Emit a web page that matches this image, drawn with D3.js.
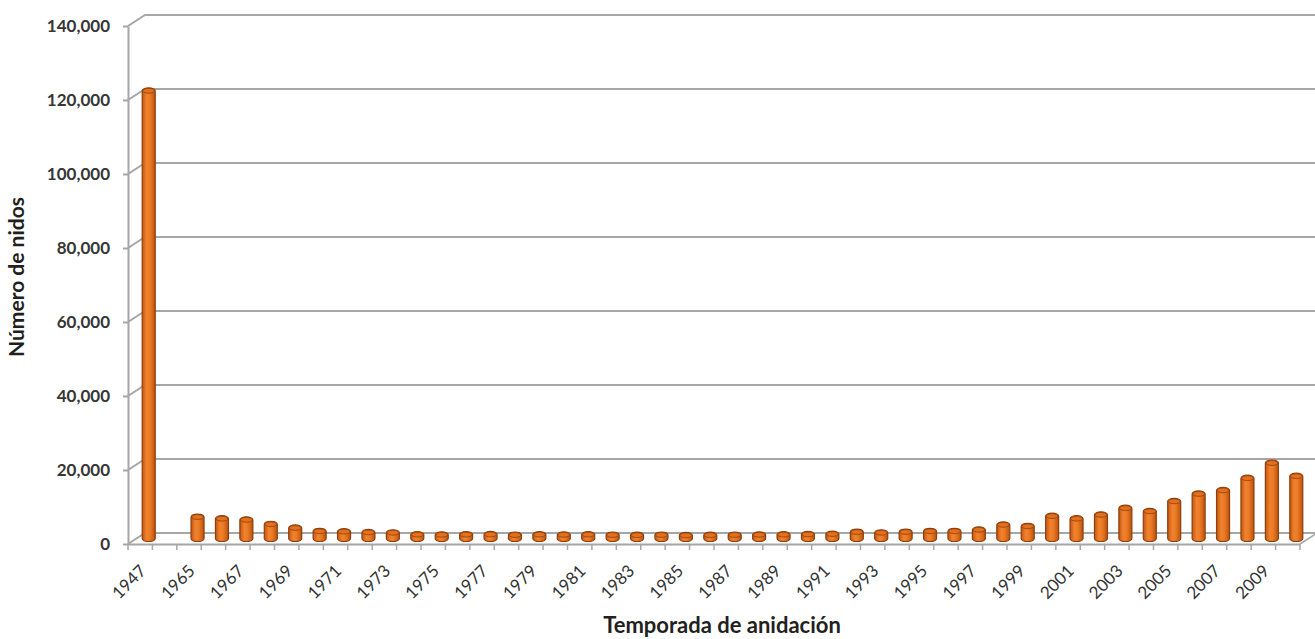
<!DOCTYPE html>
<html>
<head>
<meta charset="utf-8">
<script src="https://cdn.jsdelivr.net/npm/d3@7"></script>
<style>
  html, body { margin: 0; padding: 0; background: #ffffff; }
  svg { display: block; }
  text { font-family: Lato, "Open Sans", sans-serif; }
</style>
</head>
<body>
<svg id="chart" width="1315" height="639"></svg>
<script>
// Nesting seasons (an empty slot separates 1947 from the 1965 series)
const categories = ["1947", "",
  "1965","1966","1967","1968","1969","1970","1971","1972","1973","1974",
  "1975","1976","1977","1978","1979","1980","1981","1982","1983","1984",
  "1985","1986","1987","1988","1989","1990","1991","1992","1993","1994",
  "1995","1996","1997","1998","1999","2000","2001","2002","2003","2004",
  "2005","2006","2007","2008","2009","2010"];

// Number of nests per season
const nests = [121000, null,
  5800, 5350, 5050, 3850, 2850, 1950, 1850, 1650, 1550, 1050,
  1000, 1050, 1100, 950, 1050, 1000, 1050, 950, 900, 950,
  850, 900, 950, 1000, 1050, 1100, 1200, 1750, 1550, 1750,
  1950, 1950, 2350, 3700, 3300, 6050, 5350, 6400, 8200, 7350,
  10050, 12050, 13000, 16300, 20400, 16850];

const yTicks = [0, 20000, 40000, 60000, 80000, 100000, 120000, 140000];
const xLabels = categories.filter((c, i) => i % 2 === 0);

const yTitle = "Número de nidos";
const xTitle = "Temporada de anidación";

const svg = d3.select("#chart");

// Front plane of the 3-D plot area and the depth offset of the back wall
const plotLeft = 128, plotRight = 1300, plotBottom = 544, plotTop = 26;
const dx = 17, dy = -11;
const gridColor = "#a6a6a6";

const x = d3.scaleBand().domain(categories).range([plotLeft, plotRight]);
const y = d3.scaleLinear().domain([0, 140000]).range([plotBottom, plotTop]);

// Gradient for the cylindrical columns
const defs = svg.append("defs");
const grad = defs.append("linearGradient").attr("id", "barGrad")
  .attr("x1", "0%").attr("x2", "100%").attr("y1", "0%").attr("y2", "0%");
grad.append("stop").attr("offset", "0%").attr("stop-color", "#c3560f");
grad.append("stop").attr("offset", "35%").attr("stop-color", "#f0832f");
grad.append("stop").attr("offset", "60%").attr("stop-color", "#ec7a24");
grad.append("stop").attr("offset", "100%").attr("stop-color", "#b9520f");

// Back wall gridlines with the left side wall diagonals
const grid = svg.append("g");
grid.selectAll("path.grid")
  .data(yTicks)
  .join("path")
  .attr("class", "grid")
  .attr("d", v => `M${plotLeft},${y(v)} L${plotLeft + dx},${y(v) + dy} L${plotRight + dx},${y(v) + dy}`)
  .attr("fill", "none")
  .attr("stroke", gridColor)
  .attr("stroke-width", 2);

// Right edge of the floor
grid.append("path")
  .attr("d", `M${plotRight},${y(0)} L${plotRight + dx},${y(0) + dy}`)
  .attr("fill", "none")
  .attr("stroke", gridColor)
  .attr("stroke-width", 1.5);

// Vertical axis on the front plane
const yAxis = svg.append("g")
  .attr("transform", `translate(${plotLeft},0)`)
  .call(d3.axisLeft(y).tickValues(yTicks).tickFormat(d3.format(","))
    .tickSize(5).tickSizeOuter(0).tickPadding(13));
yAxis.select(".domain").attr("stroke", gridColor).attr("stroke-width", 2);
yAxis.selectAll(".tick line").attr("stroke", gridColor).attr("stroke-width", 2);
yAxis.selectAll(".tick text")
  .attr("fill", "#363636")
  .style("font-size", "17px")
  .style("font-weight", "bold");

// Horizontal axis: floor front edge, boundary ticks and rotated labels
const xAxis = svg.append("g")
  .attr("transform", `translate(0,${plotBottom})`)
  .call(d3.axisBottom(x).tickValues(xLabels).tickSize(0).tickSizeOuter(0));
xAxis.select(".domain").attr("stroke", gridColor).attr("stroke-width", 2);
xAxis.selectAll(".tick text")
  .attr("x", 0).attr("y", 0).attr("dy", 0)
  .attr("transform", "translate(7,28) rotate(-45)")
  .style("text-anchor", "end")
  .attr("fill", "#333333")
  .style("font-size", "17px");

const bounds = categories.map(c => x(c)).concat([plotRight]);
xAxis.selectAll("line.bound")
  .data(bounds)
  .join("line")
  .attr("class", "bound")
  .attr("x1", d => d).attr("x2", d => d)
  .attr("y1", 0).attr("y2", 6)
  .attr("stroke", gridColor)
  .attr("stroke-width", 1.5);

// Columns, placed at mid-depth of the floor
const bw = 13, ry = 3;
const rows = categories.map((c, i) => ({ cat: c, value: nests[i] }))
  .filter(d => d.value != null);
const cx = d => x(d.cat) + x.bandwidth() / 2 + dx / 2;
const yMid = v => y(v) + dy / 2;

const bars = svg.append("g");
bars.selectAll("rect.col")
  .data(rows)
  .join("rect")
  .attr("class", "col")
  .attr("x", d => cx(d) - bw / 2)
  .attr("y", d => yMid(d.value) - ry)
  .attr("width", bw)
  .attr("height", d => yMid(0) - yMid(d.value) + 2 * ry)
  .attr("rx", bw / 2).attr("ry", ry)
  .attr("fill", "url(#barGrad)")
  .attr("stroke", "#8e3f0c")
  .attr("stroke-width", 1.2);

bars.selectAll("ellipse.cap")
  .data(rows)
  .join("ellipse")
  .attr("class", "cap")
  .attr("cx", cx)
  .attr("cy", d => yMid(d.value))
  .attr("rx", bw / 2 - 0.6).attr("ry", ry - 0.6)
  .attr("fill", "#e2701e")
  .attr("stroke", "#8e3f0c")
  .attr("stroke-width", 0.8);

// Axis titles
svg.append("text")
  .attr("transform", "translate(24,277) rotate(-90)")
  .attr("text-anchor", "middle")
  .attr("fill", "#231f20")
  .style("font-size", "21px")
  .style("font-weight", "bold")
  .text(yTitle);

svg.append("text")
  .attr("x", 722).attr("y", 633)
  .attr("text-anchor", "middle")
  .attr("fill", "#231f20")
  .style("font-size", "22px")
  .style("font-weight", "bold")
  .text(xTitle);
</script>
</body>
</html>
